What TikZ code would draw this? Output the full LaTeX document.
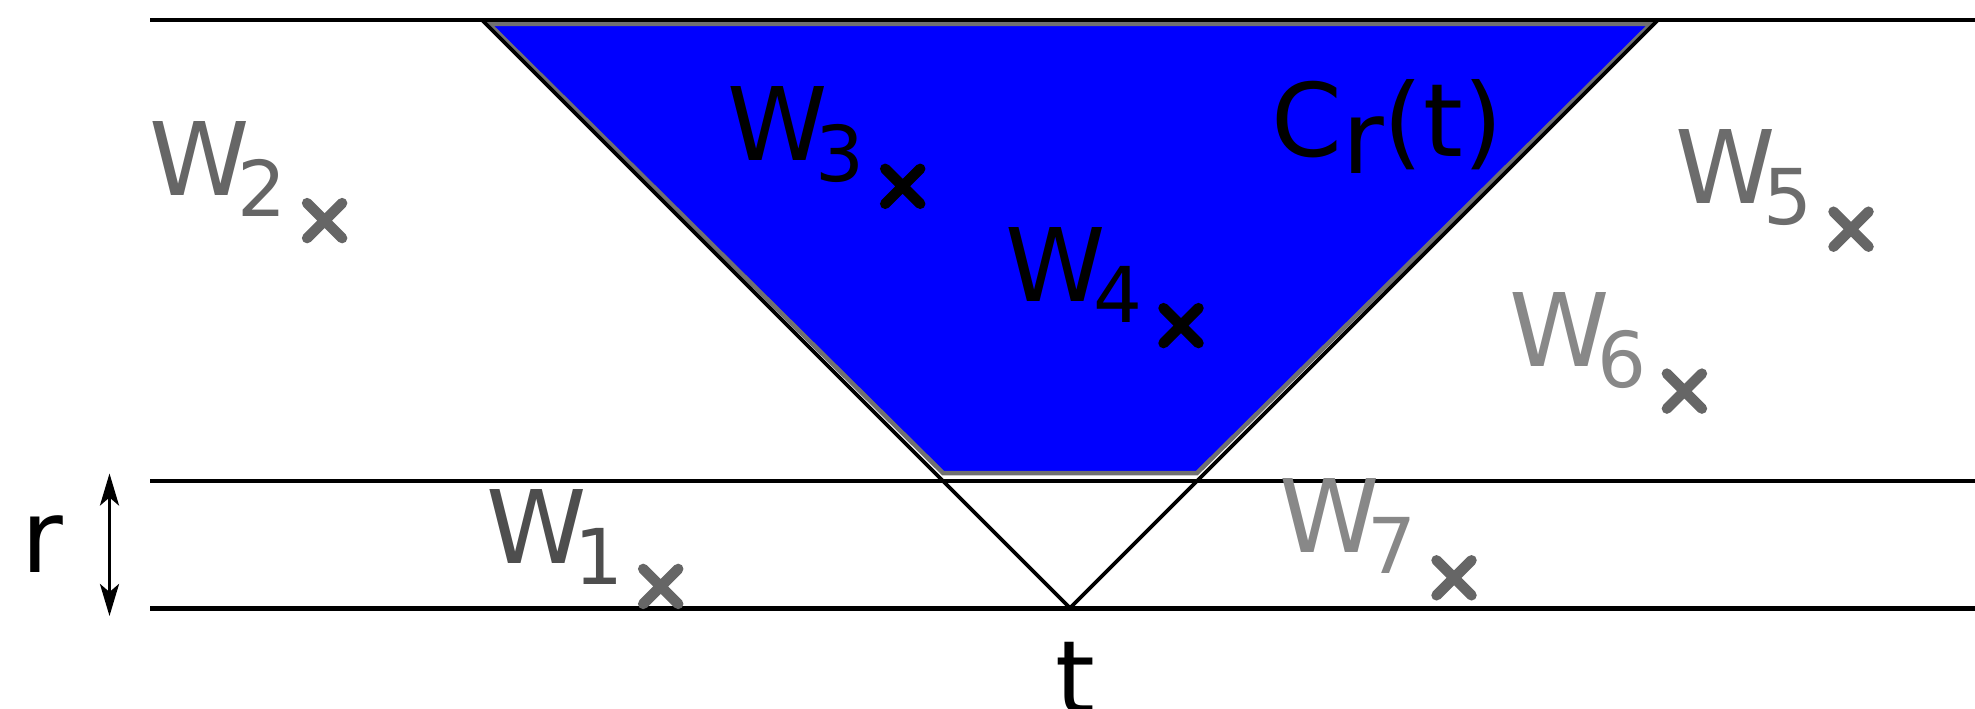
\documentclass[tikz,border=0pt]{standalone}
\usepackage{fontspec}
\setmainfont{DejaVu Sans}
\usetikzlibrary{arrows.meta}
\definecolor{cblue}{RGB}{0,0,255}
\definecolor{gA}{RGB}{78,78,78}
\definecolor{gB}{RGB}{102,102,102}
\definecolor{gC}{RGB}{108,108,108}
\definecolor{gD}{RGB}{136,136,136}
\definecolor{gX}{RGB}{102,102,102}
\definecolor{gEdge}{RGB}{112,112,112}
\newcommand\mainsz{\fontsize{101.5}{110}\selectfont}
\newcommand\subsz{\fontsize{77}{80}\selectfont}
\newcommand\wl[1]{W\kern-12pt\raisebox{-21pt}{\subsz #1}}
\newcommand\xm[2]{\draw[xmark,draw=#2] ([shift={(-17.5,-17.5)}]#1) -- ([shift={(17.5,17.5)}]#1) ([shift={(-17.5,17.5)}]#1) -- ([shift={(17.5,-17.5)}]#1);}
\begin{document}
\begin{tikzpicture}[x=1pt,y=-1pt,
  hline/.style={line width=4.2pt, draw=black},
  cone/.style={line width=3.6pt, draw=black},
  region/.style={fill=cblue, draw=gEdge, line width=4.5pt, line join=miter},
  lab/.style={anchor=base west, inner sep=0pt, outer sep=0pt, font=\mainsz},
  xmark/.style={line width=10.5pt, line cap=round},
  dimarrow/.style={line width=3.6pt, {Stealth[length=32pt,width=19pt,inset=8pt]}-{Stealth[length=32pt,width=19pt,inset=8pt]}}
]
\useasboundingbox (0,0) rectangle (1975,709);
% reference coordinates
\coordinate (tl) at (150,20.3);
\coordinate (tr) at (1975,20.3);
\coordinate (ml) at (150,481);
\coordinate (mr) at (1975,481);
\coordinate (bl) at (150,608.5);
\coordinate (br) at (1975,608.5);
\coordinate (apex) at (1070,608);
\coordinate (dl) at (482.3,20.3);
\coordinate (dr) at (1657.7,20.3);
\coordinate (p1) at (489,24);
\coordinate (p2) at (1651,24);
\coordinate (p3) at (1197,473);
\coordinate (p4) at (943,473);
% region C_r(t)
\draw[region] (p1) -- (p2) -- (p3) -- (p4) -- cycle;
% cone lines
\draw[cone] (dl) -- (apex) -- (dr);
% horizontal lines
\draw[hline] (tl) -- (tr);
\draw[hline] (ml) -- (mr);
\draw[hline] (bl) -- (br);
% dimension arrow r
\coordinate (rtop) at (109.5,473.5);
\coordinate (rbot) at (109.5,616);
\draw[dimarrow] (rtop) -- (rbot);
\node[lab] (rlab) at (21.7,572) {r};
\node[lab] (tlab) at (1055.8,713.6) {t};
\node[lab] (crt) at (1271.3,156) {C\raisebox{-17pt}{r}(t)};
% labels
\node[lab, text=gA] (w1) at (486.3,563) {\wl{1}};
\node[lab, text=gB] (w2) at (149.6,195.3) {\wl{2}};
\node[lab, text=black] (w3) at (727.6,160.5) {\wl{3}};
\node[lab, text=black] (w4) at (1005.6,301.6) {\wl{4}};
\node[lab, text=gC] (w5) at (1675.4,203.5) {\wl{5}};
\node[lab, text=gD] (w6) at (1509.6,366.2) {\wl{6}};
\node[lab, text=gD] (w7) at (1279.6,552.5) {\wl{7}};
% crosses
\coordinate (x1) at (660.7,586.4);
\coordinate (x2) at (324.6,220.6);
\coordinate (x3) at (902.7,186.3);
\coordinate (x4) at (1181,325.6);
\coordinate (x5) at (1851,229.2);
\coordinate (x6) at (1684.4,391.1);
\coordinate (x7) at (1454,577.8);
\xm{x1}{gX}
\xm{x2}{gX}
\xm{x3}{black}
\xm{x4}{black}
\xm{x5}{gX}
\xm{x6}{gX}
\xm{x7}{gX}
\end{tikzpicture}
\end{document}
